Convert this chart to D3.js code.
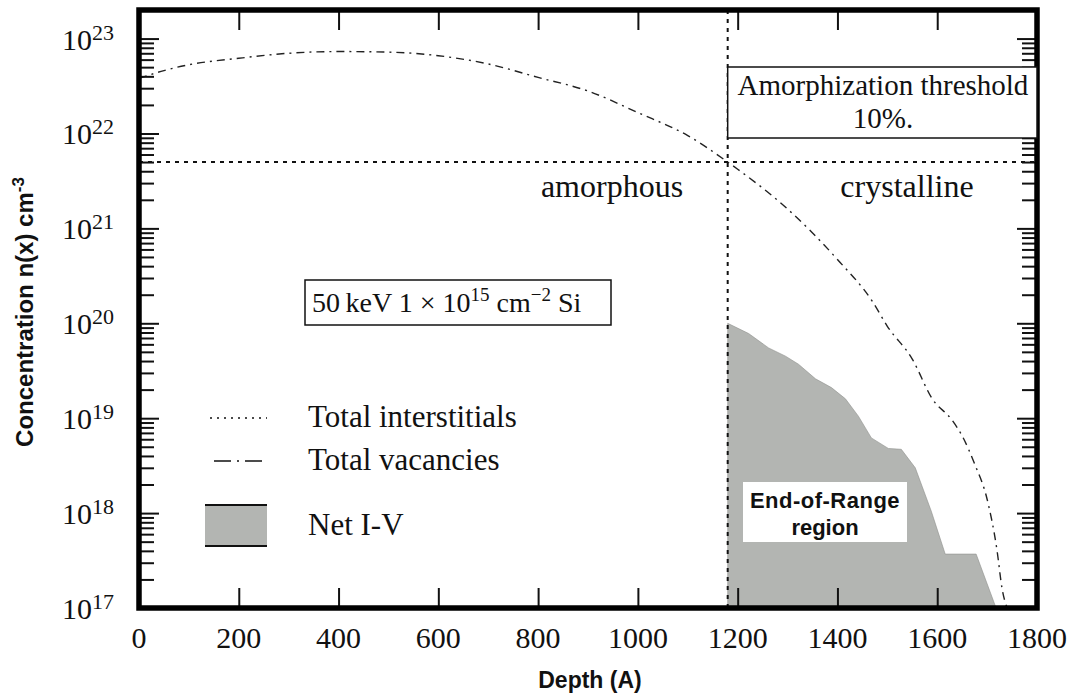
<!DOCTYPE html>
<html>
<head>
<meta charset="utf-8">
<title>Damage profile</title>
<script src="https://d3js.org/d3.v7.min.js"></script>
<style>
 body { margin: 0; background: #fff; }
 svg text { font-family: "Liberation Serif", "Times New Roman", serif; fill: #111; }
 svg text.sans { font-family: "Liberation Sans", Arial, sans-serif; font-weight: bold; }
</style>
</head>
<body>
<svg id="chart" width="1079" height="693"></svg>
<script>
// depth axis (Angstrom)
var depthTicks = [0, 200, 400, 600, 800, 1000, 1200, 1400, 1600, 1800];
// concentration decades, 10^17 .. 10^23
var decadeExps = [17, 18, 19, 20, 21, 22, 23];

// total vacancies
var vacDepth = [0, 50, 100, 200, 300, 400, 500, 600, 700, 800, 900, 1000, 1100, 1180, 1200,
                1300, 1400, 1470, 1500, 1550, 1590, 1630, 1650, 1676, 1700, 1720, 1730, 1740];
var vacConc = [3.8e22, 4.6e22, 5.3e22, 6.2e22, 7.0e22, 7.3e22, 7.2e22, 6.6e22, 5.4e22, 3.9e22,
               2.8e22, 1.66e22, 9.5e21, 5.0e21, 4.2e21, 1.6e21, 4.7e20, 1.7e20, 9.3e19, 4.2e19,
               1.6e19, 9.5e18, 6.5e18, 3.2e18, 1.4e18, 4e17, 1.6e17, 1e17];

// net I-V (end-of-range excess)
var netDepth = [1180, 1222, 1262, 1296, 1322, 1356, 1388, 1416, 1442, 1468, 1502, 1528, 1556,
                1588, 1616, 1678, 1718];
var netConc = [1e20, 7.8e19, 5.5e19, 4.5e19, 3.7e19, 2.6e19, 2.1e19, 1.6e19, 1.05e19, 6.2e18,
               4.8e18, 4.7e18, 3e18, 1.05e18, 3.7e17, 3.7e17, 1e17];

// amorphization threshold (10%) and where it is crossed
var thresholdConc = 5e21;
var thresholdDepth = 1180;

var legendNames = ["Total interstitials", "Total vacancies", "Net I-V"];

var svg = d3.select("#chart");
var plotL = 139, plotR = 1037, plotT = 10, plotB = 608;

var x = d3.scaleLinear().domain([0, 1800]).range([plotL, plotR]);
var y = d3.scaleLog().domain([1e17, 2e23]).range([plotB, plotT]);

var minorVals = [];
decadeExps.slice(0, -1).forEach(function(e) {
    for (var k = 2; k <= 9; k++) minorVals.push(k * Math.pow(10, e));
});
var majorVals = decadeExps.map(function(e) { return Math.pow(10, e); });

// ---- net I-V area
var area = d3.area()
    .x(function(d) { return x(d[0]); })
    .y0(y(1e17))
    .y1(function(d) { return y(d[1]); });
svg.append("path")
    .datum(d3.zip(netDepth, netConc))
    .attr("d", area)
    .attr("fill", "#b3b5b2")
    .attr("stroke", "#8e908d")
    .attr("stroke-width", 0.6);

// ---- vacancies
var line = d3.line()
    .x(function(d) { return x(d[0]); })
    .y(function(d) { return y(d[1]); })
    .curve(d3.curveMonotoneX);
svg.append("path")
    .datum(d3.zip(vacDepth, vacConc))
    .attr("d", line)
    .attr("fill", "none")
    .attr("stroke", "#222")
    .attr("stroke-width", 1.4)
    .attr("stroke-dasharray", "8,5,2,5");

// ---- threshold lines (dotted)
svg.append("line")
    .attr("x1", plotL).attr("x2", plotR)
    .attr("y1", y(thresholdConc)).attr("y2", y(thresholdConc))
    .attr("stroke", "#111").attr("stroke-width", 2).attr("stroke-dasharray", "4,5");
svg.append("line")
    .attr("x1", x(thresholdDepth)).attr("x2", x(thresholdDepth))
    .attr("y1", plotT).attr("y2", plotB)
    .attr("stroke", "#111").attr("stroke-width", 2).attr("stroke-dasharray", "4,5");

// ---- inward ticks with d3 axes (labels drawn separately)
function ticks(gen, vals, size, tr) {
    var g = svg.append("g").attr("transform", tr)
        .call(gen.tickValues(vals).tickSize(size).tickSizeOuter(0).tickFormat(""));
    g.select(".domain").remove();
    g.selectAll(".tick line").attr("stroke", "#111").attr("stroke-width", 2);
}
var innerX = depthTicks.slice(1, -1);
ticks(d3.axisBottom(x), innerX, -20, "translate(0," + plotB + ")");
ticks(d3.axisTop(x), innerX, -20, "translate(0," + plotT + ")");
ticks(d3.axisLeft(y), majorVals, -20, "translate(" + plotL + ",0)");
ticks(d3.axisLeft(y), minorVals, -15, "translate(" + plotL + ",0)");
ticks(d3.axisRight(y), majorVals, -20, "translate(" + plotR + ",0)");
ticks(d3.axisRight(y), minorVals, -15, "translate(" + plotR + ",0)");

// ---- frame
svg.append("rect")
    .attr("x", plotL).attr("y", plotT)
    .attr("width", plotR - plotL).attr("height", plotB - plotT)
    .attr("fill", "none").attr("stroke", "#000").attr("stroke-width", 5.5);

// ---- tick labels
svg.selectAll("text.xlab").data(depthTicks).enter().append("text")
    .attr("class", "xlab")
    .attr("x", function(d) { return x(d); })
    .attr("y", 648)
    .attr("text-anchor", "middle")
    .attr("font-size", 30)
    .text(function(d) { return d; });

var ylab = svg.selectAll("text.ylab").data(decadeExps).enter().append("text")
    .attr("class", "ylab")
    .attr("x", 114)
    .attr("y", function(d) { return y(Math.pow(10, d)) + 11; })
    .attr("text-anchor", "end")
    .attr("font-size", 30);
ylab.append("tspan").text("10");
ylab.append("tspan").attr("dy", -10).attr("font-size", 22).text(function(d) { return d; });

// ---- axis titles
svg.append("text").attr("class", "sans")
    .attr("x", 590).attr("y", 688)
    .attr("text-anchor", "middle").attr("font-size", 23)
    .text("Depth (A)");
var yt = svg.append("text").attr("class", "sans")
    .attr("transform", "translate(33,312) rotate(-90)")
    .attr("text-anchor", "middle").attr("font-size", 24);
yt.append("tspan").text("Concentration n(x) cm");
yt.append("tspan").attr("dy", -9).attr("font-size", 17).text("-3");

// ---- annotations
svg.append("rect")
    .attr("x", x(thresholdDepth)).attr("y", 67)
    .attr("width", plotR - x(thresholdDepth)).attr("height", 71)
    .attr("fill", "#fff").attr("stroke", "#111").attr("stroke-width", 1.5);
svg.append("text").attr("x", 883).attr("y", 95).attr("text-anchor", "middle")
    .attr("font-size", 29).text("Amorphization threshold");
svg.append("text").attr("x", 883).attr("y", 128).attr("text-anchor", "middle")
    .attr("font-size", 29).text("10%.");

svg.append("text").attr("x", 612).attr("y", 197).attr("text-anchor", "middle")
    .attr("font-size", 32).text("amorphous");
svg.append("text").attr("x", 907).attr("y", 197).attr("text-anchor", "middle")
    .attr("font-size", 32).text("crystalline");

svg.append("rect")
    .attr("x", 305).attr("y", 280).attr("width", 306).attr("height", 45)
    .attr("fill", "#fff").attr("stroke", "#111").attr("stroke-width", 1.5);
var cond = svg.append("text").attr("x", 312).attr("y", 312).attr("font-size", 28);
cond.append("tspan").text("50\u2009keV  1 \u00d7 10");
cond.append("tspan").attr("dy", -11).attr("font-size", 19).text("15");
cond.append("tspan").attr("dy", 11).text(" cm");
cond.append("tspan").attr("dy", -11).attr("font-size", 19).text("\u22122");
cond.append("tspan").attr("dy", 11).text("  Si");

svg.append("rect")
    .attr("x", 743).attr("y", 482).attr("width", 164).attr("height", 60)
    .attr("fill", "#fff");
svg.append("text").attr("class", "sans").attr("x", 825).attr("y", 508)
    .attr("text-anchor", "middle").attr("font-size", 22).attr("letter-spacing", 0.5)
    .text("End-of-Range");
svg.append("text").attr("class", "sans").attr("x", 825).attr("y", 535)
    .attr("text-anchor", "middle").attr("font-size", 22).text("region");

// ---- legend
var lg = svg.append("g");
lg.append("line").attr("x1", 210).attr("x2", 267).attr("y1", 418).attr("y2", 418)
    .attr("stroke", "#111").attr("stroke-width", 1.5).attr("stroke-dasharray", "2,5");
lg.append("line").attr("x1", 214).attr("x2", 267).attr("y1", 461).attr("y2", 461)
    .attr("stroke", "#111").attr("stroke-width", 1.5).attr("stroke-dasharray", "17,6,2,6");
lg.append("rect").attr("x", 205).attr("y", 505).attr("width", 62).attr("height", 41)
    .attr("fill", "#b3b5b2");
lg.append("line").attr("x1", 205).attr("x2", 267).attr("y1", 505).attr("y2", 505)
    .attr("stroke", "#111").attr("stroke-width", 2);
lg.append("line").attr("x1", 205).attr("x2", 267).attr("y1", 546).attr("y2", 546)
    .attr("stroke", "#111").attr("stroke-width", 2);
lg.selectAll("text").data(legendNames).enter().append("text")
    .attr("x", 308)
    .attr("y", function(d, i) { return [427, 470, 535][i]; })
    .attr("font-size", 31)
    .text(function(d) { return d; });
</script>
</body>
</html>
